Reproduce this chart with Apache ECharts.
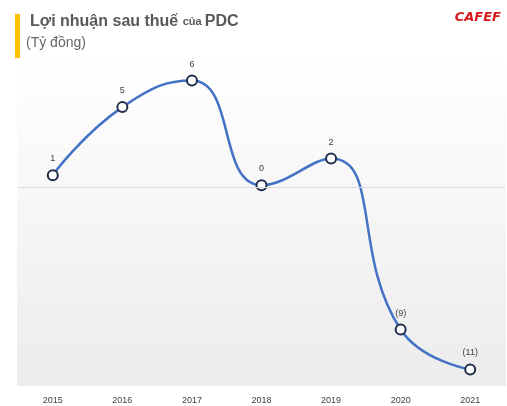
<!DOCTYPE html>
<html>
<head>
<meta charset="UTF-8">
<script src="https://cdn.jsdelivr.net/npm/echarts@6/dist/echarts.min.js"></script>
<style>
body{margin:0;background:#fff;}
#main{width:507px;height:406px;}
</style>
</head>
<body>
<div id="main"></div>
<script>
var years = ['2015','2016','2017','2018','2019','2020','2021'];
var profit = [0.7, 4.8, 6.4, 0.1, 1.7, -8.6, -11];
var labels = ['1','5','6','0','2','(9)','(11)'];

var chart = echarts.init(document.getElementById('main'));
chart.setOption({
  backgroundColor:'#fff',
  graphic:[
    {type:'rect',shape:{x:17,y:54,width:489,height:332},z:-10,silent:true,
     style:{fill:new echarts.graphic.LinearGradient(0,0,0,1,[{offset:0,color:'#ffffff'},{offset:1,color:'#ececec'}])}},
    {type:'rect',shape:{x:15,y:14,width:5,height:44},style:{fill:'#FFC000'}},
    {type:'text',left:30,top:14,style:{rich:{a:{fontSize:16,fontWeight:'bold',fill:'#595959',fontFamily:'Liberation Sans'},b:{fontSize:11,fontWeight:'bold',fill:'#595959',fontFamily:'Liberation Sans'}},text:'{a|Lợi nhuận sau thuế }{b|của }{a|PDC}'}},
    {type:'text',left:26,top:36,style:{text:'(Tỷ đồng)',fontSize:14,fill:'#666',fontFamily:'Liberation Sans'}},
    {type:'text',right:6,top:11,style:{text:'CAFEF',fontSize:13,fontWeight:'bold',fontStyle:'italic',fill:'#d7191c',fontFamily:'DejaVu Sans'}}
  ],
  grid:{left:18,right:2,top:54,bottom:20},
  xAxis:{type:'category',data:years,axisLine:{show:false},axisTick:{show:false},
    axisLabel:{color:'#404040',fontSize:9,margin:10}},
  yAxis:{type:'value',min:-12,max:8,show:false,splitLine:{show:false}},
  series:[{
    type:'line',data:profit,smooth:0.5,symbol:'circle',symbolSize:10,
    lineStyle:{color:'#4472C4',width:2.5},
    itemStyle:{color:'#fff',borderColor:'#1f2d4a',borderWidth:2},
    label:{show:true,position:'top',distance:6,color:'#404040',fontSize:9,
      formatter:function(p){return labels[p.dataIndex];}},
    markLine:{silent:true,symbol:'none',label:{show:false},
      lineStyle:{color:'#d9d9d9',type:'solid',width:1},data:[{yAxis:0}]}
  }]
});
</script>
</body>
</html>
